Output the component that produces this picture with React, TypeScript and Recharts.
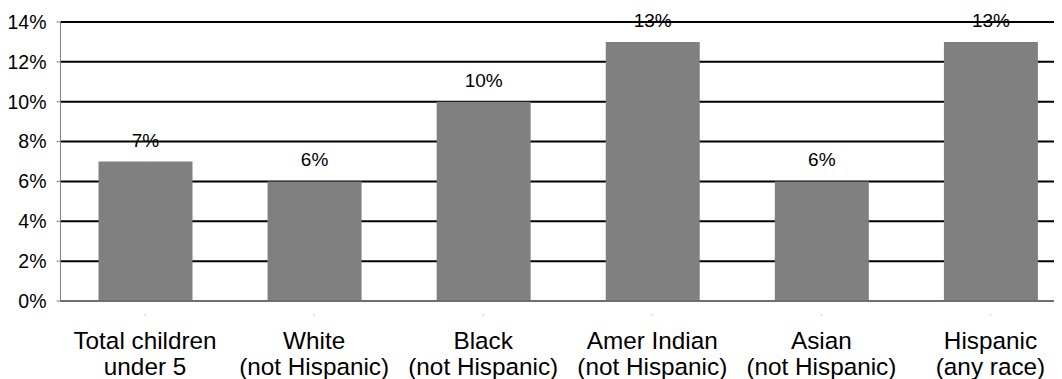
import { BarChart, Bar, XAxis, YAxis, CartesianGrid, LabelList } from 'recharts'

const CATEGORIES = [
  ['Total children', 'under 5'],
  ['White', '(not Hispanic)'],
  ['Black', '(not Hispanic)'],
  ['Amer Indian', '(not Hispanic)'],
  ['Asian', '(not Hispanic)'],
  ['Hispanic', '(any race)'],
]
const VALUES = [7, 6, 10, 13, 6, 13]
const Y_TICKS = [0, 2, 4, 6, 8, 10, 12, 14]

const data = CATEGORIES.map((c, i) => ({ name: c.join('\n'), value: VALUES[i] }))

const FONT = '"Liberation Sans", Arial, sans-serif'

function CategoryTick(props: any) {
  const { x, y, payload } = props
  const lines = String(payload.value).split('\n')
  return (
    <g transform={`translate(${x},${y})`}>
      <line x1={-1} x2={1} y1={14} y2={14} stroke="#c8c8c8" strokeWidth={1} />
      {lines.map((line, i) => (
        <text key={i} x={0} y={48 + i * 26} textAnchor="middle" fill="#000" fontSize={24.3} fontFamily={FONT}>
          {line}
        </text>
      ))}
    </g>
  )
}

export default function App() {
  return (
    <div style={{ width: 1054, height: 371, overflow: 'hidden', fontFamily: FONT }}>
      <BarChart width={1069} height={371} data={data} margin={{ top: 14, right: 2, left: 0, bottom: 0 }}>
        <CartesianGrid horizontal vertical={false} stroke="#000" strokeWidth={2} />
        <XAxis
          dataKey="name"
          stroke="#6e6e6e"
          strokeWidth={2}
          tickLine={false}
          tickSize={0}
          tickMargin={0}
          height={78}
          interval={0}
          tick={<CategoryTick />}
        />
        <YAxis
          domain={[0, 14]}
          ticks={Y_TICKS}
          tickFormatter={(v: number) => `${v}%`}
          width={52.5}
          stroke="#808080"
          tickSize={4}
          tickMargin={10}
          tick={{ fill: '#000', fontSize: 19.5, fontFamily: FONT }}
          interval={0}
        />
        <Bar dataKey="value" fill="#808080" barSize={94} isAnimationActive={false}>
          <LabelList
            dataKey="value"
            position="top"
            offset={15}
            formatter={(v: any) => `${v}%`}
            style={{ fill: '#000', fontSize: 19, fontFamily: FONT }}
          />
        </Bar>
      </BarChart>
    </div>
  )
}
